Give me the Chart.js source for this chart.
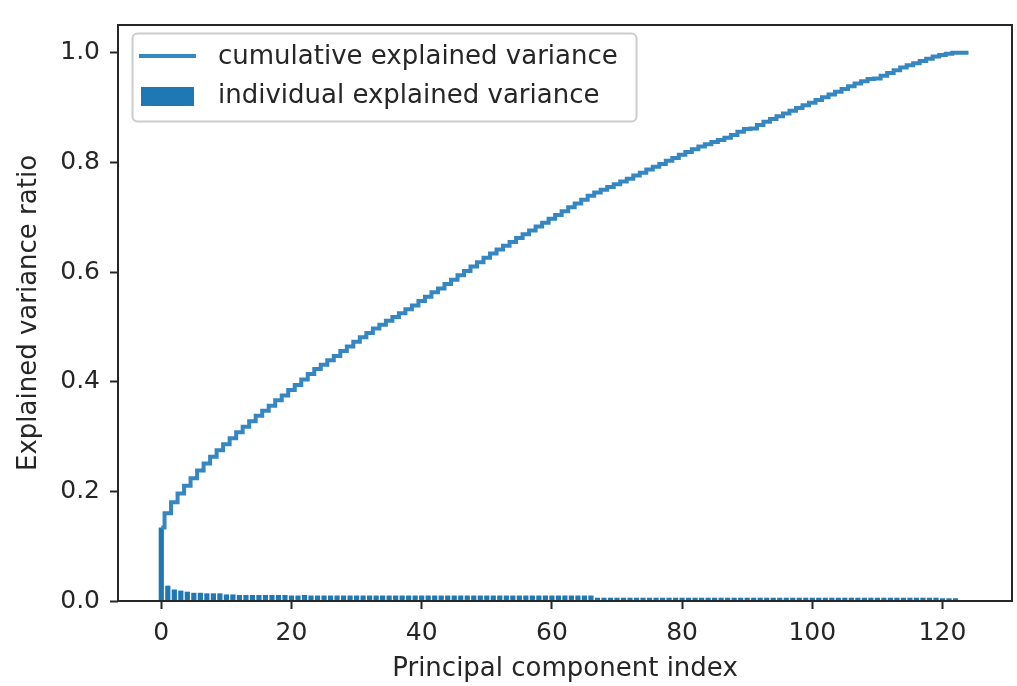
<!DOCTYPE html>
<html>
<head>
<meta charset="utf-8">
<script src="https://cdn.jsdelivr.net/npm/chart.js@4.4.1/dist/chart.umd.min.js"></script>
<style>
  html, body { margin: 0; padding: 0; background: #fff; }
  canvas { display: block; }
</style>
</head>
<body>
<canvas id="pca-chart" width="1017" height="686"></canvas>
<script>
// Índices dos componentes principais (0..124)
const componentIndex = Array.from({ length: 125 }, (_, i) => i);

const individualVar = [
  0.134, 0.028, 0.021, 0.019, 0.017, 0.015, 0.015, 0.014, 0.014, 0.014,
  0.012, 0.012, 0.011, 0.011, 0.011, 0.011, 0.011, 0.011, 0.011, 0.011,
  0.010, 0.010, 0.011, 0.010, 0.010, 0.010, 0.010, 0.010, 0.010, 0.010,
  0.010, 0.010, 0.010, 0.010, 0.010, 0.010, 0.010, 0.010, 0.010, 0.010,
  0.010, 0.010, 0.010, 0.010, 0.010, 0.010, 0.010, 0.010, 0.010, 0.010,
  0.010, 0.010, 0.010, 0.010, 0.010, 0.010, 0.010, 0.010, 0.010, 0.010,
  0.010, 0.010, 0.010, 0.010, 0.010, 0.010, 0.010, 0.006, 0.006, 0.006,
  0.006, 0.006, 0.006, 0.006, 0.006, 0.006, 0.006, 0.006, 0.006, 0.006,
  0.006, 0.006, 0.006, 0.006, 0.006, 0.006, 0.006, 0.006, 0.006, 0.006,
  0.006, 0.006, 0.006, 0.006, 0.006, 0.006, 0.006, 0.006, 0.006, 0.006,
  0.006, 0.006, 0.006, 0.006, 0.006, 0.006, 0.006, 0.006, 0.006, 0.006,
  0.006, 0.006, 0.006, 0.006, 0.006, 0.006, 0.006, 0.006, 0.006, 0.006,
  0.005, 0.005, 0.005, 0.000, 0.000
];

const cumulativeVar = [
  0.134, 0.160, 0.180, 0.196, 0.210, 0.224, 0.238, 0.251, 0.263, 0.275,
  0.286, 0.297, 0.308, 0.318, 0.328, 0.338, 0.347, 0.356, 0.366, 0.375,
  0.385, 0.394, 0.404, 0.414, 0.423, 0.431, 0.439, 0.447, 0.456, 0.464,
  0.473, 0.481, 0.489, 0.497, 0.504, 0.511, 0.518, 0.525, 0.532, 0.539,
  0.547, 0.555, 0.563, 0.570, 0.578, 0.586, 0.594, 0.602, 0.610, 0.618,
  0.626, 0.634, 0.641, 0.648, 0.655, 0.662, 0.669, 0.676, 0.683, 0.690,
  0.697, 0.704, 0.711, 0.718, 0.725, 0.732, 0.739, 0.745, 0.750, 0.755,
  0.760, 0.765, 0.770, 0.776, 0.781, 0.787, 0.792, 0.797, 0.803, 0.808,
  0.814, 0.819, 0.824, 0.829, 0.833, 0.837, 0.841, 0.845, 0.850, 0.856,
  0.861, 0.862, 0.868, 0.874, 0.879, 0.884, 0.889, 0.894, 0.899, 0.904,
  0.909, 0.914, 0.919, 0.924, 0.929, 0.934, 0.939, 0.944, 0.948, 0.952,
  0.953, 0.958, 0.963, 0.968, 0.973, 0.977, 0.981, 0.985, 0.989, 0.993,
  0.996, 0.998, 1.000, 1.000, 1.000
];

// Rótulos dos eixos
const xTicks = [0, 20, 40, 60, 80, 100, 120];
const yTicks = [0.0, 0.2, 0.4, 0.6, 0.8, 1.0];
const legendLabels = ['cumulative explained variance', 'individual explained variance'];

const BLUE = '#1f77b4';
const LINE_BLUE = '#3586c1';
const INK = '#262626';
const FONT = "'DejaVu Sans', sans-serif";

Chart.defaults.font.family = FONT;
Chart.defaults.color = INK;

// Moldura (4 lados) e legenda no estilo matplotlib
const mplFrame = {
  id: 'mplFrame',
  afterDatasetsDraw(chart) {
    const { ctx, chartArea: a } = chart;
    ctx.save();
    ctx.strokeStyle = INK;
    ctx.lineWidth = 2;
    ctx.strokeRect(a.left, a.top, a.right - a.left, a.bottom - a.top);
    ctx.restore();
  },
  afterDraw(chart) {
    const ctx = chart.ctx;
    ctx.save();
    ctx.beginPath();
    ctx.roundRect(132.5, 33.5, 504, 88, 5);
    ctx.fillStyle = 'rgba(255,255,255,0.8)';
    ctx.fill();
    ctx.strokeStyle = '#cccccc';
    ctx.lineWidth = 2;
    ctx.stroke();

    ctx.beginPath();
    ctx.moveTo(139, 56);
    ctx.lineTo(196, 56);
    ctx.strokeStyle = LINE_BLUE;
    ctx.lineWidth = 4;
    ctx.stroke();

    ctx.fillStyle = BLUE;
    ctx.fillRect(141, 87, 53, 19);

    ctx.fillStyle = INK;
    ctx.font = '26px ' + FONT;
    ctx.textBaseline = 'middle';
    ctx.textAlign = 'left';
    ctx.fillText(legendLabels[0], 218, 57);
    ctx.fillText(legendLabels[1], 218, 96);
    ctx.restore();
  }
};

const ctx = document.getElementById('pca-chart').getContext('2d');

const pcaChart = new Chart(ctx, {
  type: 'bar',
  data: {
    datasets: [
      {
        type: 'line',
        label: legendLabels[0],
        data: componentIndex.map((i) => ({ x: i, y: cumulativeVar[i] })),
        stepped: 'middle',
        borderColor: LINE_BLUE,
        borderWidth: 4,
        pointRadius: 0,
        fill: false,
        order: 0
      },
      {
        type: 'bar',
        label: legendLabels[1],
        data: componentIndex.map((i) => ({ x: i, y: individualVar[i] })),
        backgroundColor: BLUE,
        borderWidth: 0,
        barPercentage: 0.8,
        categoryPercentage: 1.0,
        order: 1
      }
    ]
  },
  options: {
    responsive: false,
    animation: false,
    devicePixelRatio: 1,
    layout: { padding: { top: 20, right: 5, bottom: 0, left: 0 } },
    plugins: {
      legend: { display: false },
      tooltip: { enabled: false }
    },
    scales: {
      x: {
        type: 'linear',
        min: -6.65,
        max: 130.68,
        offset: false,
        afterBuildTicks: (scale) => { scale.ticks = xTicks.map((v) => ({ value: v })); },
        afterFit: (scale) => { scale.height = 85; },
        ticks: {
          font: { size: 25 },
          color: INK,
          padding: 9,
          maxRotation: 0,
          autoSkip: false,
          callback: (v) => String(v)
        },
        grid: {
          display: true,
          offset: false,
          drawOnChartArea: false,
          drawTicks: true,
          tickLength: 8,
          tickWidth: 2,
          tickColor: INK
        },
        border: { display: false },
        title: {
          display: true,
          text: 'Principal component index',
          font: { size: 26 },
          color: INK,
          padding: { top: 0, bottom: 1 }
        }
      },
      y: {
        min: 0,
        max: 1.0506,
        afterBuildTicks: (scale) => { scale.ticks = yTicks.map((v) => ({ value: v })); },
        afterFit: (scale) => { scale.width = 118; },
        ticks: {
          font: { size: 25 },
          color: INK,
          padding: 10,
          callback: (v) => Number(v).toFixed(1)
        },
        grid: {
          display: true,
          drawOnChartArea: false,
          drawTicks: true,
          tickLength: 8,
          tickWidth: 2,
          tickColor: INK
        },
        border: { display: false },
        title: {
          display: true,
          text: 'Explained variance ratio',
          font: { size: 26 },
          color: INK,
          padding: { top: 14, bottom: 0 }
        }
      }
    }
  },
  plugins: [mplFrame]
});
</script>
</body>
</html>
